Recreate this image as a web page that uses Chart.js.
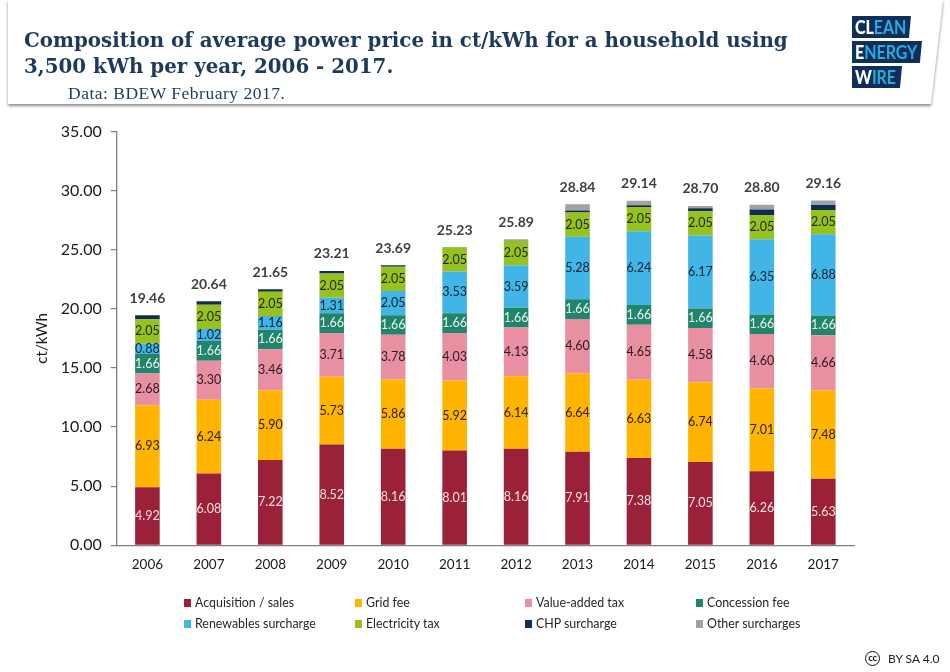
<!DOCTYPE html>
<html><head><meta charset="utf-8">
<style>
html,body{margin:0;padding:0;background:#fff;width:950px;height:672px;overflow:hidden;position:relative}
#c{position:absolute;left:0;top:0;width:950px;height:672px}
#hs{position:absolute;left:0;top:0;width:950px;height:112px;filter:drop-shadow(0 2px 1.5px rgba(0,0,0,.45))}
#hp{position:absolute;left:0;top:0;width:950px;height:112px;background:#fff;clip-path:polygon(8px 0,943px 0,931px 104px,8px 104px)}
#t{position:absolute;left:24px;top:27px;font:bold 20.6px/26px "DejaVu Serif",serif;color:#1b3a5c;white-space:nowrap;transform:scaleX(.963);transform-origin:left top}
#s{position:absolute;left:68px;top:82px;font:17.5px/22px "Liberation Serif",serif;letter-spacing:.5px;color:#1b3a5c;white-space:nowrap}
.lg{position:absolute;left:852px;height:22px;background:#0f2f5b;box-sizing:border-box;white-space:nowrap;overflow:hidden}
.lg span{display:block;position:absolute;left:3px;top:0;font:bold 19px/22px Lato,sans-serif;color:#29aae1;transform:scaleX(.84);transform-origin:left top}
.lg b{color:#fff}
.li{position:absolute;font:12.4px/16px Lato,sans-serif;color:#262626;white-space:nowrap;padding-left:11px}
.li i{position:absolute;left:0;top:4px;width:7px;height:8px}
#cc{position:absolute;left:865px;top:651px;width:15px;height:15px;border:1.6px solid #111;border-radius:50%;font:bold 9.5px/12px Lato,sans-serif;text-align:center;color:#111;box-sizing:border-box;letter-spacing:-.3px}
#by{position:absolute;left:888px;top:651px;font:12px/16px Lato,sans-serif;color:#222;white-space:nowrap}
</style></head><body>
<canvas id="c" width="950" height="672"></canvas>
<div id="hs"><div id="hp"></div></div>
<div id="t">Composition of average power price in ct/kWh for a household using<br>3,500 kWh per year, 2006 - 2017.</div>
<div id="s">Data: BDEW February 2017.</div>
<div class="lg" style="top:16px;width:59px;clip-path:polygon(0 0,100% 0,96.5% 100%,0 100%)"><span><b>CL</b>EAN</span></div>
<div class="lg" style="top:41px;width:70px;clip-path:polygon(0 0,100% 0,97% 100%,0 100%)"><span><b>E</b>NERGY</span></div>
<div class="lg" style="top:66px;width:50px;clip-path:polygon(0 0,100% 0,96% 100%,0 100%)"><span><b>W</b>IRE</span></div>
<div id="cc">cc</div><div id="by">BY SA 4.0</div>
<script src="https://cdn.jsdelivr.net/npm/chart.js@4"></script>
<script>
const years = ["2006","2007","2008","2009","2010","2011","2012","2013","2014","2015","2016","2017"];
const acquisition = [4.92,6.08,7.22,8.52,8.16,8.01,8.16,7.91,7.38,7.05,6.26,5.63];
const gridFee = [6.93,6.24,5.90,5.73,5.86,5.92,6.14,6.64,6.63,6.74,7.01,7.48];
const vat = [2.68,3.30,3.46,3.71,3.78,4.03,4.13,4.60,4.65,4.58,4.60,4.66];
const concession = [1.66,1.66,1.66,1.66,1.66,1.66,1.66,1.66,1.66,1.66,1.66,1.66];
const renewables = [0.88,1.02,1.16,1.31,2.05,3.53,3.59,5.28,6.24,6.17,6.35,6.88];
const electricityTax = [2.05,2.05,2.05,2.05,2.05,2.05,2.05,2.05,2.05,2.05,2.05,2.05];
const chp = [0.34,0.29,0.20,0.23,0.13,0.03,0,0.17,0.16,0.25,0.47,0.43];
const other = [0,0,0,0,0,0,0.16,0.53,0.37,0.20,0.40,0.37];
const totals = ["19.46","20.64","21.65","23.21","23.69","25.23","25.89","28.84","29.14","28.70","28.80","29.16"];
const yTicks = [0,5,10,15,20,25,30,35];

const series = [
 {label:"Acquisition / sales",data:acquisition,backgroundColor:"#9b2139",txt:"#f6dfe3"},
 {label:"Grid fee",data:gridFee,backgroundColor:"#ffb400",txt:"#2b2208"},
 {label:"Value-added tax",data:vat,backgroundColor:"#e88fa2",txt:"#2a1b1e"},
 {label:"Concession fee",data:concession,backgroundColor:"#21856b",txt:"#e8f4f0"},
 {label:"Renewables surcharge",data:renewables,backgroundColor:"#41b6e6",txt:"#10222c"},
 {label:"Electricity tax",data:electricityTax,backgroundColor:"#97c11f",txt:"#1f2608"},
 {label:"CHP surcharge",data:chp,backgroundColor:"#0f2d52"},
 {label:"Other surcharges",data:other,backgroundColor:"#a0a2a4"}
];

const labelsPlugin = {
  id:"barLabels",
  afterDatasetsDraw(chart){
    const ctx = chart.ctx;
    ctx.save();
    ctx.textAlign = "center";
    ctx.textBaseline = "middle";
    ctx.font = "12.5px Lato, sans-serif";
    series.forEach((s,i)=>{
      if(!s.txt) return;
      chart.getDatasetMeta(i).data.forEach((bar,j)=>{
        ctx.fillStyle = s.txt;
        ctx.fillText(s.data[j].toFixed(2), bar.x, (bar.y+bar.base)/2);
      });
    });
    ctx.font = "bold 14px Lato, sans-serif";
    ctx.fillStyle = "#404040";
    years.forEach((y,j)=>{
      let top = Infinity, x = 0;
      series.forEach((s,i)=>{ const b = chart.getDatasetMeta(i).data[j]; top = Math.min(top,b.y); x = b.x; });
      ctx.fillText(totals[j], x, top-17);
    });
    ctx.restore();
  }
};

new Chart(document.getElementById("c"),{
  type:"bar",
  data:{labels:years,datasets:series.map(s=>({label:s.label,data:s.data,backgroundColor:s.backgroundColor,stack:"a",categoryPercentage:1,barPercentage:0.4}))},
  plugins:[labelsPlugin],
  options:{
    responsive:false,animation:false,
    devicePixelRatio:1,
    layout:{padding:{top:131.5,right:96,left:0,bottom:0}},
    plugins:{legend:{display:false},tooltip:{enabled:false},title:{display:false}},
    scales:{
      x:{stacked:true,
        grid:{display:false},
        border:{color:"#7f7f7f",width:1.3},
        ticks:{font:{family:"Lato",size:13.5},color:"#1a1a1a",padding:3,maxRotation:0},
        afterFit(s){s.height=672-545.3;}
      },
      y:{stacked:true,min:0,max:35,
        afterBuildTicks(s){s.ticks=yTicks.map(v=>({value:v}));},
        grid:{drawOnChartArea:false,drawTicks:true,tickLength:6,color:"#7f7f7f",lineWidth:1.2},
        border:{color:"#7f7f7f",width:1.3},
        ticks:{font:{family:"Lato",size:16},color:"#1a1a1a",padding:9,callback:v=>v.toFixed(2)},
        title:{display:true,text:"ct/kWh",font:{family:"Lato",size:15},color:"#1a1a1a",padding:{top:33,bottom:0}},
        afterFit(s){s.width=116.7;}
      }
    }
  }
});

const colX=[184,355,525,696], rowY=[595,616];
series.forEach((s,i)=>{
  const d=document.createElement("div");
  d.className="li";
  d.style.left=colX[i%4]+"px";
  d.style.top=rowY[Math.floor(i/4)]+"px";
  const sw=document.createElement("i");
  sw.style.background=s.backgroundColor;
  d.appendChild(sw);
  d.appendChild(document.createTextNode(s.label));
  document.body.appendChild(d);
});
</script>
</body></html>
